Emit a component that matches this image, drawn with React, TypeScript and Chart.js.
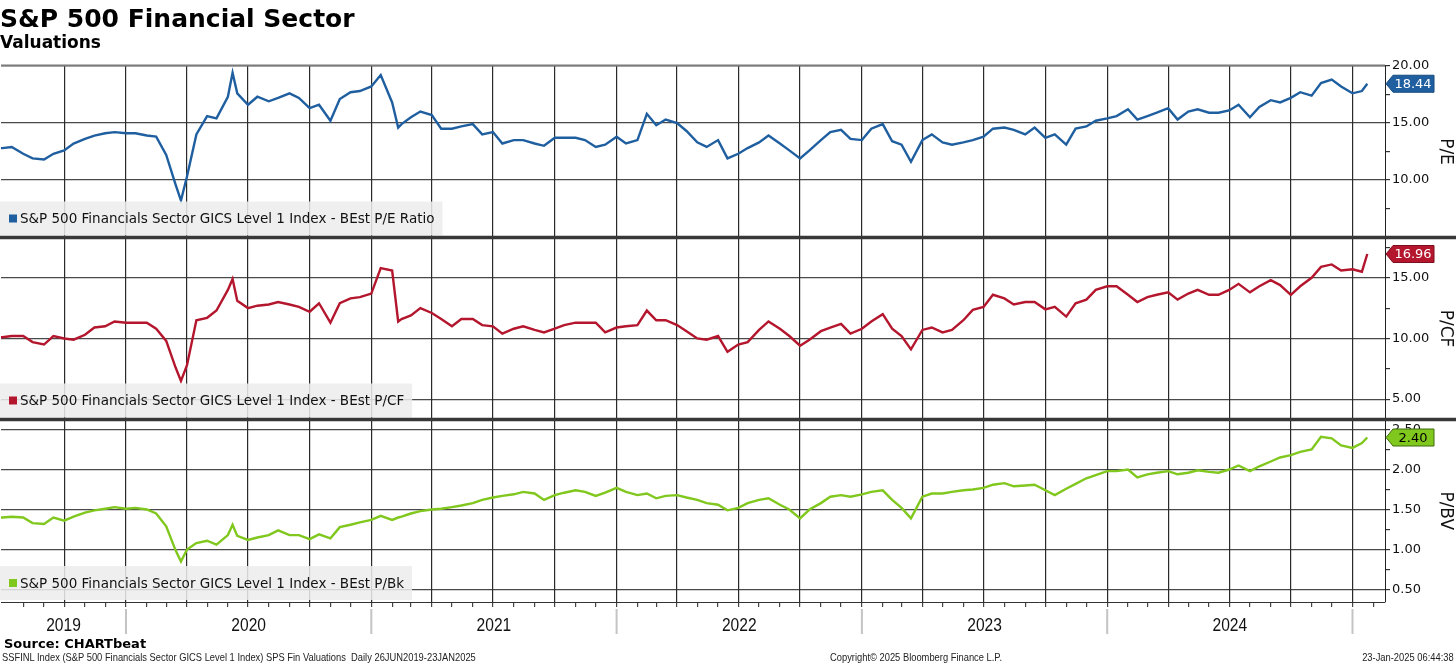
import React, { useEffect, useRef } from "react";
import { Chart, registerables } from "chart.js";

Chart.register(...registerables);

// ---------- DATA ----------
const dates = [
  "2019-06-26",
  "2019-07-01", "2019-07-15", "2019-08-01", "2019-08-15", "2019-09-01", "2019-09-15", "2019-10-01", "2019-10-15", "2019-11-01", "2019-11-15", "2019-12-01", "2019-12-15",
  "2020-01-01", "2020-01-15", "2020-02-01", "2020-02-15", "2020-03-01", "2020-03-15", "2020-03-23", "2020-04-01", "2020-04-15", "2020-05-01", "2020-05-15", "2020-06-01", "2020-06-08", "2020-06-15", "2020-07-01", "2020-07-15", "2020-08-01", "2020-08-15", "2020-09-01", "2020-09-15", "2020-10-01", "2020-10-15", "2020-11-01", "2020-11-15", "2020-12-01", "2020-12-15",
  "2021-01-01", "2021-01-15", "2021-02-01", "2021-02-10", "2021-02-15", "2021-03-01", "2021-03-15", "2021-04-01", "2021-04-15", "2021-05-01", "2021-05-15", "2021-06-01", "2021-06-15", "2021-07-01", "2021-07-15", "2021-08-01", "2021-08-15", "2021-09-01", "2021-09-15", "2021-10-01", "2021-10-15", "2021-11-01", "2021-11-15", "2021-12-01", "2021-12-15",
  "2022-01-01", "2022-01-15", "2022-02-01", "2022-02-15", "2022-03-01", "2022-03-15", "2022-04-01", "2022-04-15", "2022-05-01", "2022-05-15", "2022-06-01", "2022-06-15", "2022-07-01", "2022-07-15", "2022-08-01", "2022-08-15", "2022-09-01", "2022-09-15", "2022-10-01", "2022-10-15", "2022-11-01", "2022-11-15", "2022-12-01", "2022-12-15",
  "2023-01-01", "2023-01-15", "2023-02-01", "2023-02-15", "2023-03-01", "2023-03-15", "2023-04-01", "2023-04-15", "2023-05-01", "2023-05-15", "2023-06-01", "2023-06-15", "2023-07-01", "2023-07-15", "2023-08-01", "2023-08-15", "2023-09-01", "2023-09-15", "2023-10-01", "2023-10-15", "2023-11-01", "2023-11-15", "2023-12-01", "2023-12-15",
  "2024-01-01", "2024-01-15", "2024-02-01", "2024-02-15", "2024-03-01", "2024-03-15", "2024-04-01", "2024-04-15", "2024-05-01", "2024-05-15", "2024-06-01", "2024-06-15", "2024-07-01", "2024-07-15", "2024-08-01", "2024-08-15", "2024-09-01", "2024-09-15", "2024-10-01", "2024-10-15", "2024-11-01", "2024-11-15", "2024-12-01", "2024-12-15",
  "2025-01-01", "2025-01-15", "2025-01-23",
];

const peRatio = [
  12.8,
  12.8, 12.9, 12.3, 11.9, 11.8, 12.3, 12.6, 13.2, 13.6, 13.9, 14.1, 14.2,
  14.1, 14.1, 13.9, 13.8, 12.2, 9.6, 8.2, 10.3, 14.0, 15.6, 15.4, 17.3, 19.4, 17.6, 16.6, 17.3, 16.9, 17.2, 17.6, 17.2, 16.3, 16.6, 15.2, 17.1, 17.7, 17.8,
  18.2, 19.2, 16.8, 14.6, 14.9, 15.5, 16.0, 15.7, 14.5, 14.5, 14.7, 14.9, 14.0, 14.2, 13.2, 13.5, 13.5, 13.2, 13.0, 13.7, 13.7, 13.7, 13.5, 12.9, 13.1,
  13.8, 13.2, 13.5, 15.8, 14.8, 15.3, 15.0, 14.3, 13.3, 12.9, 13.5, 11.9, 12.3, 12.8, 13.3, 13.9, 13.2, 12.6, 11.9, 12.6, 13.5, 14.2, 14.4, 13.6,
  13.5, 14.5, 14.9, 13.4, 13.1, 11.6, 13.5, 14.0, 13.3, 13.1, 13.3, 13.5, 13.8, 14.5, 14.6, 14.4, 14.0, 14.6, 13.7, 14.0, 13.1, 14.5, 14.7, 15.2,
  15.4, 15.6, 16.2, 15.3, 15.6, 15.9, 16.3, 15.3, 16.0, 16.2, 15.9, 15.9, 16.1, 16.6, 15.5, 16.4, 17.0, 16.8, 17.2, 17.7, 17.4, 18.5, 18.8, 18.2,
  17.6, 17.8, 18.44,
];

const pcfRatio = [
  10.1,
  10.1, 10.2, 10.2, 9.7, 9.5, 10.2, 10.0, 9.9, 10.3, 10.9, 11.0, 11.4,
  11.3, 11.3, 11.3, 10.8, 9.8, 7.6, 6.5, 7.8, 11.5, 11.7, 12.3, 14.0, 14.9, 13.1, 12.5, 12.7, 12.8, 13.0, 12.8, 12.6, 12.2, 12.9, 11.3, 12.9, 13.3, 13.4,
  13.7, 15.8, 15.6, 11.4, 11.6, 11.9, 12.5, 12.1, 11.6, 11.0, 11.6, 11.6, 11.1, 11.0, 10.4, 10.8, 11.0, 10.7, 10.5, 10.8, 11.1, 11.3, 11.3, 11.3, 10.5,
  10.9, 11.0, 11.1, 12.3, 11.5, 11.5, 11.1, 10.6, 10.0, 9.9, 10.2, 8.9, 9.5, 9.7, 10.7, 11.4, 10.8, 10.2, 9.4, 9.9, 10.6, 10.9, 11.2, 10.4,
  10.8, 11.4, 12.0, 10.8, 10.2, 9.1, 10.7, 10.9, 10.5, 10.7, 11.5, 12.35, 12.6, 13.6, 13.3, 12.8, 13.0, 13.0, 12.4, 12.6, 11.8, 12.9, 13.2, 14.0,
  14.3, 14.3, 13.6, 13.0, 13.4, 13.6, 13.8, 13.2, 13.7, 14.0, 13.6, 13.6, 14.0, 14.5, 13.8, 14.3, 14.8, 14.4, 13.6, 14.3, 15.0, 15.9, 16.1, 15.6,
  15.7, 15.5, 16.96,
];

const pbRatio = [
  1.40,
  1.40, 1.41, 1.40, 1.33, 1.32, 1.40, 1.36, 1.41, 1.46, 1.49, 1.51, 1.53,
  1.51, 1.52, 1.50, 1.45, 1.29, 0.99, 0.85, 1.00, 1.08, 1.11, 1.06, 1.18, 1.31, 1.17, 1.12, 1.15, 1.18, 1.24, 1.18, 1.18, 1.13, 1.19, 1.14, 1.28, 1.31, 1.34,
  1.37, 1.42, 1.37, 1.40, 1.41, 1.45, 1.48, 1.50, 1.51, 1.53, 1.55, 1.58, 1.62, 1.65, 1.67, 1.69, 1.72, 1.70, 1.62, 1.68, 1.71, 1.74, 1.72, 1.67, 1.71,
  1.77, 1.72, 1.68, 1.70, 1.64, 1.67, 1.68, 1.65, 1.62, 1.58, 1.56, 1.49, 1.52, 1.58, 1.62, 1.64, 1.56, 1.50, 1.39, 1.50, 1.58, 1.66, 1.68, 1.66,
  1.69, 1.72, 1.74, 1.62, 1.52, 1.39, 1.66, 1.70, 1.70, 1.72, 1.74, 1.75, 1.77, 1.81, 1.83, 1.79, 1.80, 1.81, 1.74, 1.68, 1.76, 1.82, 1.89, 1.93,
  1.98, 1.98, 2.00, 1.90, 1.94, 1.96, 1.98, 1.94, 1.96, 1.99, 1.97, 1.96, 2.00, 2.05, 1.98, 2.04, 2.10, 2.15, 2.18, 2.22, 2.25, 2.41, 2.39, 2.30,
  2.27, 2.33, 2.40,
];

const seriesNames = [
  "S&P 500 Financials Sector GICS Level 1 Index - BEst P/E Ratio",
  "S&P 500 Financials Sector GICS Level 1 Index - BEst P/CF",
  "S&P 500 Financials Sector GICS Level 1 Index - BEst P/Bk",
];
const axisTitles = ["P/E", "P/CF", "P/BV"];
const yearLabels = ["2019", "2020", "2021", "2022", "2023", "2024"];
const peTicks = [7.5, 10, 12.5, 15, 17.5, 20];
const pcfTicks = [5, 7.5, 10, 12.5, 15, 17.5];
const pbTicks = [0.5, 0.75, 1, 1.25, 1.5, 1.75, 2, 2.25, 2.5];

const BLUE = "#1f5fa0";
const RED = "#b3162d";
const GREEN = "#80c71e";

// ---------- HELPERS ----------
function toYear(s: string): number {
  const [y, m, d] = s.split("-").map(Number);
  const a = Date.UTC(y, 0, 1);
  const b = Date.UTC(y + 1, 0, 1);
  return y + (Date.UTC(y, m - 1, d) - a) / (b - a);
}

const xs = dates.map(toYear);
const pts = (vals: number[]) => xs.map((x, i) => ({ x, y: vals[i] }));

const monthTicks: number[] = [];
for (let y = 2019; y <= 2025; y++) {
  for (let m = 1; m <= 12; m++) {
    const v = toYear(`${y}-${String(m).padStart(2, "0")}-01`);
    if (v >= 2019.5 && v <= 2025.1) monthTicks.push(v);
  }
}
const isQuarter = (v: number) => {
  const f = v - Math.floor(v + 1e-9);
  return Math.round(f * 12) % 3 === 0;
};
const isMajor = (v: number, step: number) => Math.abs(v / step - Math.round(v / step)) < 1e-6;

const X_MIN = 2019.4904;
const X_MAX = 2025.1325;

function yAxis(ticks: number[], step: number, min: number, max: number, weight: number, title: string) {
  return {
    type: "linear" as const,
    position: "right" as const,
    stack: "panels",
    stackWeight: weight,
    min,
    max,
    afterBuildTicks: (s: any) => {
      s.ticks = ticks.map((v) => ({ value: v }));
    },
    afterFit: (s: any) => {
      s.width = 71;
    },
    ticks: {
      callback: (v: any) => (isMajor(Number(v), step) ? Number(v).toFixed(2) : ""),
      font: { family: "DejaVu Sans", size: 13 },
      color: "#111",
      padding: 2,
      autoSkip: false,
      maxRotation: 0,
    },
    grid: {
      color: (c: any) => (c.tick && isMajor(c.tick.value, step) ? "#4a4a4a" : "rgba(0,0,0,0)"),
      tickColor: "#333",
      tickLength: 5,
      lineWidth: 1.2,
    },
    border: { display: true, color: "#222", width: 1 },
    title: {
      display: true,
      text: title,
      font: { family: "DejaVu Sans", size: 17 },
      color: "#111",
      padding: { top: 0, bottom: 0 },
    },
  };
}

const panelPlugin = {
  id: "bbgPanels",
  afterDatasetsDraw(chart: any) {
    const { ctx } = chart;
    const ids = ["yPE", "yPCF", "yPB"];
    const cols = [BLUE, RED, GREEN];
    ctx.save();
    ids.forEach((id, i) => {
      const s = chart.scales[id];
      ctx.font = '13.5px "DejaVu Sans"';
      const tw = ctx.measureText(seriesNames[i]).width;
      const h = 34;
      const bottom = s.bottom - 2;
      ctx.fillStyle = "rgba(236,236,236,0.86)";
      ctx.fillRect(0, bottom - h, tw + 28, h);
      ctx.fillStyle = cols[i];
      ctx.fillRect(9, bottom - h / 2 - 4, 8, 8);
      ctx.fillStyle = "#111";
      ctx.textBaseline = "middle";
      ctx.textAlign = "left";
      ctx.fillText(seriesNames[i], 20, bottom - h / 2 + 1);
    });
    ctx.restore();
  },
  afterDraw(chart: any) {
    const { ctx, chartArea } = chart;
    const xS = chart.scales.x;
    ctx.save();
    // top border
    ctx.strokeStyle = "#7a7a7a";
    ctx.lineWidth = 2;
    ctx.beginPath();
    ctx.moveTo(chartArea.left, chartArea.top);
    ctx.lineTo(chartArea.right, chartArea.top);
    ctx.stroke();
    // panel separators
    ctx.fillStyle = "#383838";
    [chart.scales.yPE.bottom, chart.scales.yPCF.bottom].forEach((y: number) => {
      ctx.fillRect(0, y - 1.75, chart.width, 3.5);
    });
    // last value tags
    const tags = [
      { id: "yPE", v: peRatio[peRatio.length - 1], bg: BLUE, fg: "#fff", bd: "#174a7d" },
      { id: "yPCF", v: pcfRatio[pcfRatio.length - 1], bg: RED, fg: "#fff", bd: "#7d0f1f" },
      { id: "yPB", v: pbRatio[pbRatio.length - 1], bg: GREEN, fg: "#000", bd: "#3d6a0c" },
    ];
    tags.forEach((t) => {
      const s = chart.scales[t.id];
      const y = s.getPixelForValue(t.v);
      const x0 = s.left + 1;
      ctx.beginPath();
      ctx.moveTo(x0, y);
      ctx.lineTo(x0 + 7, y - 8.5);
      ctx.lineTo(x0 + 48, y - 8.5);
      ctx.lineTo(x0 + 48, y + 8.5);
      ctx.lineTo(x0 + 7, y + 8.5);
      ctx.closePath();
      ctx.fillStyle = t.bg;
      ctx.fill();
      ctx.strokeStyle = t.bd;
      ctx.lineWidth = 1;
      ctx.stroke();
      ctx.fillStyle = t.fg;
      ctx.font = '13px "DejaVu Sans"';
      ctx.textAlign = "center";
      ctx.textBaseline = "middle";
      ctx.fillText(t.v.toFixed(2), x0 + 27, y + 1);
    });
    // year separators and labels
    ctx.fillStyle = "#c4c4c4";
    for (let yr = 2020; yr <= 2025; yr++) {
      const px = xS.getPixelForValue(yr);
      ctx.fillRect(px - 1, 609, 2, 25);
    }
    ctx.fillStyle = "#111";
    ctx.font = '19px "Liberation Sans", Arial, sans-serif';
    ctx.textAlign = "center";
    ctx.textBaseline = "middle";
    yearLabels.forEach((lab) => {
      const yr = Number(lab);
      const a = Math.max(chartArea.left, xS.getPixelForValue(yr));
      const b = Math.min(chartArea.right, xS.getPixelForValue(yr + 1));
      ctx.save();
      ctx.translate((a + b) / 2, 626);
      ctx.scale(0.82, 1);
      ctx.fillText(lab, 0, 0);
      ctx.restore();
    });
    ctx.restore();
  },
};

export default function App() {
  const ref = useRef<HTMLCanvasElement>(null);

  useEffect(() => {
    if (!ref.current) return;
    const chart = new Chart(ref.current, {
      type: "line",
      data: {
        datasets: [
          { label: seriesNames[0], data: pts(peRatio), yAxisID: "yPE", borderColor: BLUE, borderWidth: 2.4, pointRadius: 0, tension: 0 },
          { label: seriesNames[1], data: pts(pcfRatio), yAxisID: "yPCF", borderColor: RED, borderWidth: 2.4, pointRadius: 0, tension: 0 },
          { label: seriesNames[2], data: pts(pbRatio), yAxisID: "yPB", borderColor: GREEN, borderWidth: 2.4, pointRadius: 0, tension: 0 },
        ],
      },
      options: {
        responsive: false,
        animation: false,
        events: [],
        layout: { padding: { left: 1, top: 65.5, right: 0, bottom: 0 } },
        plugins: { legend: { display: false }, tooltip: { enabled: false } },
        scales: {
          yPE: yAxis(peTicks, 5, 4.96, 20.04, 172, axisTitles[0]),
          yPCF: yAxis(pcfTicks, 5, 3.32, 18.32, 182, axisTitles[1]),
          yPB: yAxis(pbTicks, 0.5, 0.344, 2.625, 182.5, axisTitles[2]),
          x: {
            type: "linear",
            position: "bottom",
            min: X_MIN,
            max: X_MAX,
            afterBuildTicks: (s: any) => {
              s.ticks = monthTicks.map((v) => ({ value: v }));
            },
            afterFit: (s: any) => {
              s.height = 63;
            },
            ticks: { display: false },
            grid: {
              color: (c: any) => (c.tick && isQuarter(c.tick.value) ? "#2a2a2a" : "rgba(0,0,0,0)"),
              tickColor: "#444",
              tickLength: 5,
              lineWidth: 1.2,
            },
            border: { display: true, color: "#333", width: 1 },
          },
        },
      } as any,
      plugins: [panelPlugin],
    });
    return () => chart.destroy();
  }, []);

  const abs: React.CSSProperties = { position: "absolute", whiteSpace: "nowrap", color: "#000" };
  const small: React.CSSProperties = {
    ...abs,
    top: 652,
    font: '11px/11px "Liberation Sans", Arial, sans-serif',
    color: "#222",
    transform: "scaleX(0.85)",
  };

  return (
    <div style={{ position: "absolute", left: 0, top: 0, width: 1456, height: 665, background: "#fff", overflow: "hidden" }}>
      <canvas ref={ref} width={1456} height={665} style={{ position: "absolute", left: 0, top: 0, width: 1456, height: 665 }} />
      <div style={{ ...abs, left: 0, top: 6, font: 'bold 25px/25px "DejaVu Sans"' }}>S&amp;P 500 Financial Sector</div>
      <div style={{ ...abs, left: 0, top: 33.6, font: 'bold 17px/17px "DejaVu Sans"' }}>Valuations</div>
      <div style={{ ...abs, left: 4, top: 637, font: 'bold 13px/13px "DejaVu Sans"' }}>Source: CHARTbeat</div>
      <div style={{ ...small, left: 2, transformOrigin: "left top" }}>
        SSFINL Index (S&amp;P 500 Financials Sector GICS Level 1 Index) SPS Fin Valuations&nbsp;&nbsp;Daily 26JUN2019-23JAN2025
      </div>
      <div style={{ ...small, left: 830, transformOrigin: "left top" }}>Copyright© 2025 Bloomberg Finance L.P.</div>
      <div style={{ ...small, right: 2, transformOrigin: "right top" }}>23-Jan-2025 06:44:38</div>
    </div>
  );
}
